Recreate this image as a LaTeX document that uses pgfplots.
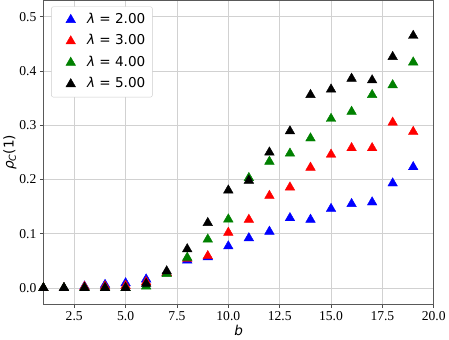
\documentclass[border=0pt]{standalone}
\usepackage{pgfplots}
\pgfplotsset{compat=1.18}
\usepackage{fontspec}
\setmainfont{Liberation Serif}
\newfontfamily\dv{DejaVu Sans}

\definecolor{mblue}{RGB}{0,0,255}
\definecolor{mred}{RGB}{255,0,0}
\definecolor{mgreen}{RGB}{0,128,0}

\begin{document}
\begin{tikzpicture}
\begin{axis}[
  scale only axis,
  width=388pt, height=302pt,
  xmin=1, xmax=20,
  ymin=-0.03, ymax=0.53,
  xtick={2.5,5,...,20},
  ytick={0,0.1,...,0.5},
  xticklabel style={/pgf/number format/.cd,fixed,fixed zerofill,precision=1},
  yticklabel style={/pgf/number format/.cd,fixed,fixed zerofill,precision=1},
  /pgf/number format/assume math mode=true,
  tick label style={font=\fontsize{13.5}{15}\selectfont},
  tick align=outside,
  major tick length=3.5pt,
  tick style={black!70, line width=0.8pt},
  xtick pos=bottom, ytick pos=left,
  grid=major,
  grid style={black!18, line width=0.9pt},
  axis line style={black!65, line width=0.9pt},
  xlabel={\dv\itshape b},
  ylabel={\dv\itshape ρ\textsubscript{C}\upshape(1)},
  label style={font=\fontsize{13.5}{15}\selectfont},
  xlabel style={yshift=2pt},
  ylabel style={yshift=-4pt},
  legend style={font=\dv\fontsize{13.5}{15}\selectfont, draw=black!20, rounded corners=2pt,
    at={(0.02,0.98)}, anchor=north west, row sep=2.3pt, inner xsep=4pt, inner ysep=3.5pt,
    nodes={text height=10pt, text depth=3pt, inner sep=3pt},
    /tikz/every even column/.append style={column sep=6pt}},
  legend image code/.code={\path (0pt,0pt) (28pt,0pt); \draw[#1] plot coordinates {(15pt,0pt)};},
  legend cell align=left,
  every axis plot/.append style={only marks, mark=triangle*, mark size=5.5pt,
    mark options={yshift=-1.3pt}},
]
\addplot[mblue, mark options={fill=mblue}] coordinates {
 (1,0) (2,0) (3,0.003) (4,0.006) (5,0.009) (6,0.016) (7,0.028) (8,0.051) (9,0.057)
 (10,0.077) (11,0.092) (12,0.104) (13,0.129) (14,0.126) (15,0.146) (16,0.155)
 (17,0.158) (18,0.193) (19,0.223)
};
\addlegendentry{\itshape λ\upshape\ = 2.00}
\addplot[mred, mark options={fill=mred}] coordinates {
 (1,0) (2,0) (3,0.002) (4,0.003) (5,0.004) (6,0.011) (7,0.028) (8,0.054) (9,0.059)
 (10,0.102) (11,0.126) (12,0.170) (13,0.1855) (14,0.222) (15,0.246) (16,0.258)
 (17,0.258) (18,0.305) (19,0.288)
};
\addlegendentry{\itshape λ\upshape\ = 3.00}
\addplot[mgreen, mark options={fill=mgreen}] coordinates {
 (1,0) (2,0) (3,0) (4,0) (5,0) (6,0.003) (7,0.026) (8,0.056) (9,0.0896)
 (10,0.1266) (11,0.203) (12,0.233) (13,0.248) (14,0.276) (15,0.312) (16,0.325)
 (17,0.356) (18,0.374) (19,0.416)
};
\addlegendentry{\itshape λ\upshape\ = 4.00}
\addplot[black, mark options={fill=black}] coordinates {
 (1,0) (2,0) (3,0) (4,0) (5,0) (6,0.008) (7,0.031) (8,0.0717) (9,0.120)
 (10,0.180) (11,0.198) (12,0.250) (13,0.289) (14,0.356) (15,0.366) (16,0.386)
 (17,0.383) (18,0.426) (19,0.465)
};
\addlegendentry{\itshape λ\upshape\ = 5.00}
\end{axis}
\end{tikzpicture}
\end{document}
